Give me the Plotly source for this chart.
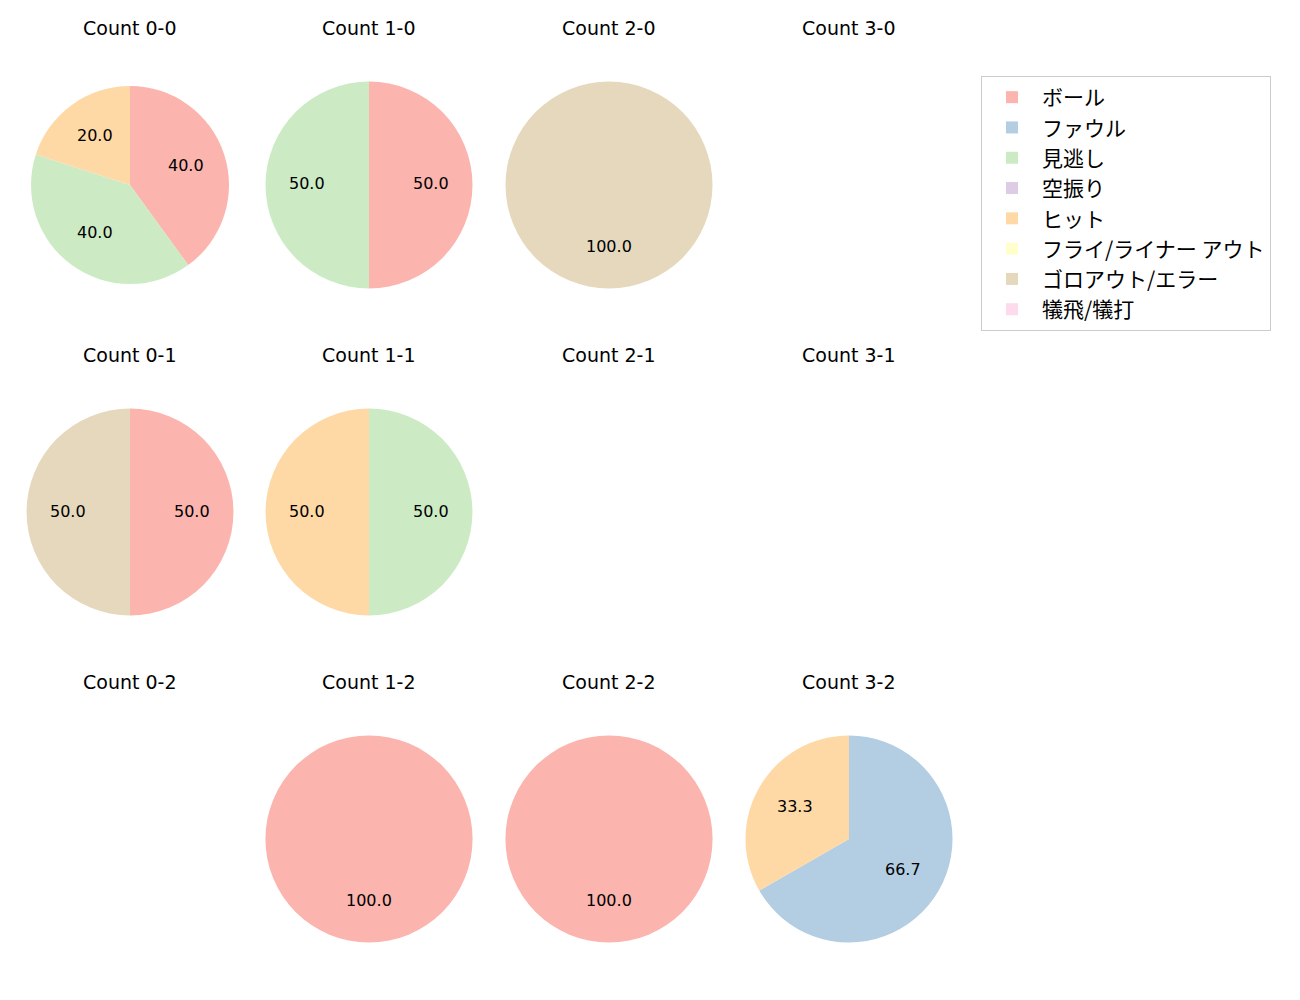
import math
import plotly.graph_objects as go

# ---- data ----
categories = ["ボール", "ファウル", "見逃し", "空振り", "ヒット",
              "フライ/ライナー アウト", "ゴロアウト/エラー", "犠飛/犠打"]
colors = ["#fbb4ae", "#b3cde3", "#ccebc5", "#decbe4", "#fed9a6",
          "#ffffcc", "#e5d8bd", "#fddaec"]

count_titles = [["Count 0-0", "Count 1-0", "Count 2-0", "Count 3-0"],
                ["Count 0-1", "Count 1-1", "Count 2-1", "Count 3-1"],
                ["Count 0-2", "Count 1-2", "Count 2-2", "Count 3-2"]]

# percentages per count (order = categories); None = no data
count_0_0 = [40.0, 0, 40.0, 0, 20.0, 0, 0, 0]
count_1_0 = [50.0, 0, 50.0, 0, 0, 0, 0, 0]
count_2_0 = [0, 0, 0, 0, 0, 0, 100.0, 0]
count_3_0 = None
count_0_1 = [50.0, 0, 0, 0, 0, 0, 50.0, 0]
count_1_1 = [0, 0, 50.0, 0, 50.0, 0, 0, 0]
count_2_1 = None
count_3_1 = None
count_0_2 = None
count_1_2 = [100.0, 0, 0, 0, 0, 0, 0, 0]
count_2_2 = [100.0, 0, 0, 0, 0, 0, 0, 0]
count_3_2 = [0, 66.7, 0, 0, 33.3, 0, 0, 0]

grid = [[count_0_0, count_1_0, count_2_0, count_3_0],
        [count_0_1, count_1_1, count_2_1, count_3_1],
        [count_0_2, count_1_2, count_2_2, count_3_2]]

# ---- layout geometry (pixels, figure coords; page adds an 8px body margin) ----
W, H = 1300, 1000
OFF = 8
col_cx = [130 - OFF, 369 - OFF, 609 - OFF, 849 - OFF]
row_cy = [185 - OFF, 512 - OFF, 839 - OFF]
radius = 103.5
title_offset = 157
LATIN = "DejaVu Sans, Noto Sans CJK JP"

fig = go.Figure()
annotations = []
first = True
for r in range(3):
    for c in range(4):
        cx, cy = col_cx[c], row_cy[r]
        rad = 99 if (r == 0 and c == 0) else radius
        annotations.append(dict(
            x=cx / W, y=1 - (cy - title_offset) / H, xref="paper", yref="paper",
            xanchor="center", yanchor="middle",
            text=count_titles[r][c], showarrow=False,
            font=dict(size=19, color="#000000", family=LATIN)))
        vals = grid[r][c]
        if vals is None:
            continue
        fig.add_trace(go.Pie(
            labels=categories, values=vals, sort=False, direction="clockwise",
            rotation=0, marker=dict(colors=colors, line=dict(width=0)),
            textinfo="none", hoverinfo="label+percent",
            showlegend=first,
            domain=dict(x=[(cx - rad) / W, (cx + rad) / W],
                        y=[1 - (cy + rad) / H, 1 - (cy - rad) / H])))
        first = False
        # percentage labels at 0.6 radius, mid-angle of each slice
        total = sum(vals)
        start = 0.0
        for v in vals:
            if v <= 0:
                continue
            mid = start + v / 2
            ang = math.radians(90 - 360 * mid / total)
            tx = cx + 0.6 * rad * math.cos(ang)
            ty = cy - 0.6 * rad * math.sin(ang) - 1
            annotations.append(dict(
                x=tx / W, y=1 - ty / H, xref="paper", yref="paper",
                xanchor="center", yanchor="middle",
                text=f"{v:.1f}", showarrow=False,
                font=dict(size=16, color="#000000", family=LATIN)))
            start += v

fig.update_layout(
    width=W, height=H,
    margin=dict(l=0, r=0, t=0, b=0),
    paper_bgcolor="white", plot_bgcolor="white",
    font=dict(family=LATIN, color="#000000"),
    annotations=annotations,
    legend=dict(x=(981 - OFF) / W, y=1 - (76 - OFF) / H,
                xanchor="left", yanchor="top",
                bordercolor="#cccccc", borderwidth=1, bgcolor="white",
                itemwidth=50,
                font=dict(size=21, family="Noto Sans CJK JP, DejaVu Sans",
                          color="#000000"),
                tracegroupgap=0),
)

fig.write_html("out.html")
